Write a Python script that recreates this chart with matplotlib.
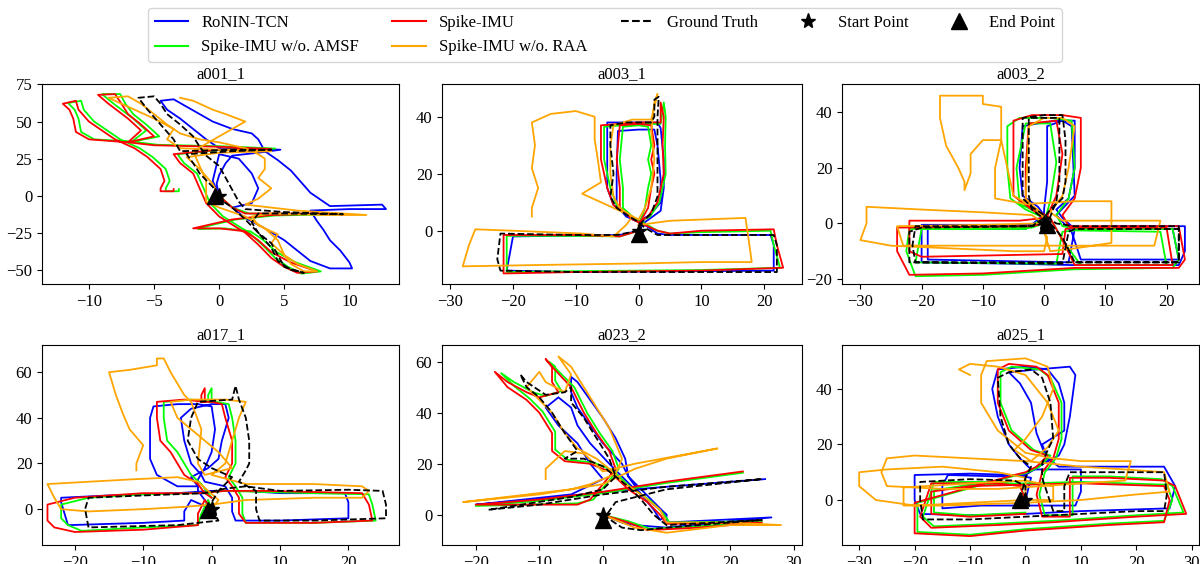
import matplotlib
matplotlib.use("Agg")
import matplotlib.pyplot as plt
from matplotlib.lines import Line2D

plt.rcParams['font.family'] = ['Liberation Serif', 'DejaVu Serif']

# Method names and colours
METHODS = ["RoNIN-TCN", "Spike-IMU w/o. AMSF", "Spike-IMU", "Spike-IMU w/o. RAA"]
COLORS = ["blue", "lime", "red", "orange"]

# ---------------- a001_1 ----------------
A001_GT = [(0,0),(-0.5,6),(-1.5,15),(-2,22),(-2.5,28),(1,30),(4,31),(1,31),(-3,30),(-3.5,38),(-4.5,48),
           (-5.5,58),(-6.2,66),(-5,67),(-4.5,62),(-4,55),(-3,48),(-2,40),(-1.5,33),(-1,27),(0,20),(0.5,12),
           (1,4),(1.5,-4),(2,-9),(5,-11),(9.5,-12.5),(5,-12),(3,-12),(2.5,-18),(3,-25),(4,-32),(4.5,-40),
           (5,-48),(6.5,-52),(5.5,-50),(4.5,-44),(4,-35),(3,-25),(2,-16),(1,-8),(0,-2),(-0.3,0)]
A001_RONIN = [(0,0),(-0.2,8),(0,14),(0.5,22),(1,27),(3,29),(4.7,31),(3,31.5),(0,32),(-1,38),(-2,45),(-3,52),
              (-4,58),(-4.5,64),(-3.5,65),(-2.5,60),(-1.5,55),(-0.5,50),(1,45),(2.5,42),(3,38),(3.5,30),
              (4.5,24),(5.5,17),(6.2,10),(7,2),(8,-4),(8.5,-7),(12.5,-6),(12.8,-9),(10,-9),(7,-10),(7.5,-17),
              (8,-23),(8.5,-30),(9.3,-37),(10,-45),(10.2,-49),(8.5,-49),(7,-44),(6,-37),(5,-30),(3.5,-22),
              (2,-15),(1,-8),(2.5,-5),(3,5),(2.5,15),(1.5,25),(0,28),(-0.5,10),(0,0)]
A001_AMSF = [(0,0),(1,-8),(2.3,-12),(9.3,-12.5),(4.3,-13.3),(1.3,-16),(-0.7,-20),(-1.6,-22.5),(0.4,-22),
             (2.4,-24),(3.4,-30),(4.4,-38),(5.9,-45),(7.8,-51),(6.3,-52.5),(5.3,-48),(4.3,-42),(3.3,-33),
             (2.3,-25),(0.3,-14),(-0.7,-5),(-1.2,5),(-1.7,15),(-2.7,22),(-3.2,28),(0.3,31),(4.3,31.8),
             (0.3,33.3),(-4.7,34.3),(-6.7,36.5),(-5.6,44),(-6.6,52),(-8.1,62),(-9,68.5),(-7.6,68.5),
             (-7.2,62),(-6.6,55),(-5.6,48),(-4.6,40),(-6.6,36.5),(-9.6,38),(-10.6,43),(-10.8,52),(-11.1,58),
             (-11.6,62.5),(-10.6,64),(-10.4,58),(-9.6,50),(-8.6,44),(-7.6,38),(-6.1,32),(-5.1,26),(-4.1,18),
             (-3.8,10),(-4.1,5),(-4.1,3),(-3.1,3),(-3.1,4.5)]
A001_SPIKE = [(0,0),(1,-8),(2,-12),(9,-12),(4,-13),(1,-16),(-1,-20),(-2,-22),(0,-22),(2,-24),(3,-30),(4,-38),
              (5.5,-45),(7.5,-51),(6,-52),(5,-48),(4,-42),(3,-33),(2,-25),(0,-14),(-1,-5),(-1.5,5),(-2,15),
              (-3,22),(-3.5,28),(0,31),(4,31.5),(0,33),(-5,34),(-7,36),(-6,44),(-7,52),(-8.5,62),(-9.3,68),
              (-8,68.5),(-7.5,62),(-7,55),(-6,48),(-5,40),(-7,36),(-10,38),(-11,43),(-11.2,52),(-11.5,58),
              (-12,62),(-11,64),(-10.8,58),(-10,50),(-9,44),(-8,38),(-6.5,32),(-5.5,26),(-4.5,18),(-4.2,10),
              (-4.5,5),(-4.5,3),(-3.5,3),(-3.5,4.5)]
A001_RAA = [(0,0),(-0.5,8),(-1.5,18),(-2.5,26),(0,29),(4,30),(2,30.5),(-3,32),(-4,38),(-3.5,45),(-5,52),
            (-6.5,58),(-8,64),(-8.5,66),(-7,67),(-6,62),(-5,55),(-4,48),(-3,42),(-1.5,38),(0,36),(2,32),
            (3,28),(3.5,25),(3.5,18),(3,12),(4,5),(3,-2),(2,-6),(6,-10),(11.3,-13),(8,-13),(4,-12),(2.5,-14),
            (3,-20),(4.5,-26),(4,-32),(5,-40),(6,-46),(7.5,-51),(6.5,-51),(5.5,-46),(5,-40),(4.5,-30),
            (3.5,-22),(2,-14),(0,-8),(-1,-4),(-1,0),(-1,10),(-2,30),(0,40),(2,50),(0.5,55),(-0.5,58),(-2,64),
            (-3,66)]

# ---------------- a003_1 ----------------
A003_1_GT = [(0,0),(-3.5,-1.5),(-10,-1.5),(-22,-1),(-22.5,-10),(-22,-14),(-10,-14.5),(10,-14.5),(22,-14.5),
             (22,-5),(21.5,-1.5),(10,-1.5),(3,-1.5),(1,1),(0,3),(-1.5,5),(-3.5,8),(-4.5,12),(-4,20),
             (-4.5,30),(-4.5,37),(-2,38),(2,38),(2.5,40),(2.5,46),(3.2,47),(3,40),(3,30),(3,20),(3,12),
             (2,6),(0.5,3),(0,-1)]
A003_1_RONIN = [(0,0),(-3,-1.5),(-20,-2),(-20.5,-8),(-21,-14),(-10,-14.5),(21.5,-14),(21.5,-5),(21,-1.5),
                (10,-1.5),(5,-1.5),(3,-1),(1,2),(-2,5),(-3.5,9),(-3.5,20),(-3.3,35),(0,35.5),(2.5,35.5),
                (3,30),(3.5,18),(3.5,10),(2,6),(0,3),(-2,6),(-4,9),(-5,15),(-5,30),(-5,38),(0,38),(3,38),
                (3.5,36),(4,25),(4,15),(3.5,7),(1,3),(0,0)]
A003_1_AMSF = [(0,0),(-3,-2),(-10,-1.8),(-21,-1.8),(-21,-8),(-21,-14.5),(-10,-14.2),(10,-13.8),(22.5,-13),
               (21.5,-5),(21,0),(10,-0.5),(5,-1),(3,0),(1,2.5),(-1,4.5),(-2,6.5),(-3.5,9),(-4.5,15),
               (-5.5,25),(-5.5,36.5),(0,37.5),(3.5,37.5),(4,45),(4.3,40),(4.2,30),(4.3,20),(3.3,10),
               (1.8,5),(0,3),(-1,5),(-2.5,8),(-2.5,15),(-3,25),(-2.5,36.5),(0,37),(1.5,36.5),(2,30),
               (1.5,25),(2,20),(1.5,15),(1,8),(0,2)]
A003_1_SPIKE = [(0,0),(-3,-2),(-10,-1.5),(-21.5,-1.5),(-21.5,-8),(-21.5,-15),(-10,-14.5),(10,-14),
                (23,-13),(22,-5),(21.5,0.5),(10,0),(5,-1),(3,0),(1,2),(-1,4),(-2,6),(-4,9),(-5,15),
                (-6,25),(-6,37),(0,38),(3.5,38),(3.5,45),(4,40),(3.8,30),(4,20),(3,10),(1.5,5),(0,3),
                (-1.5,5),(-3,8),(-3,15),(-3.5,25),(-3,37),(0,37.5),(2,37),(2.5,30),(2,25),(2.5,20),
                (2,15),(1.5,8),(0,2)]
A003_1_RAA = [(0,2),(5,3.5),(17,4.5),(17.5,-3),(18,-11),(10,-11),(0,-11.5),(-15,-12),(-28,-12.5),(-27,-5),
              (-26,0.5),(-20,0),(-9,-1),(-4,-2),(-2,2),(-1,5),(-3,8),(-4,12),(-4.5,20),(-4.5,30),(-4,37),
              (-1,39),(2,39),(3,48),(2.5,45),(2,35),(2.5,25),(2,15),(1,8),(0,4),(-2,6),(-5,9),(-9,13),
              (-6,17),(-6.5,25),(-7,32),(-7,40),(-10,42),(-14,41),(-17,38),(-16.5,30),(-17,22),(-16,15),
              (-17,8),(-17,5)]

# ---------------- a003_2 ----------------
A003_2_GT = [(0,0),(-2,-1),(-10,-1),(-21,-1),(-21.5,-8),(-21,-14),(-10,-14),(4,-14),(15,-14),(22,-14),
             (22,-7),(22,-1),(15,-1),(5,-1),(2,0),(0,3),(-2,6),(-3.5,9),(-3.5,20),(-3.5,38),(0,39),(3,39),
             (3.5,30),(3.5,15),(3,9),(1,5),(0,2),(-2,-1),(-20,-1.5),(-22,-3),(-22,-14),(3,-14.5),(4,-3),
             (5,-2),(22,-2),(22,-14),(5,-14),(3,-5),(1,0),(-2,5),(-2.5,10),(-2.5,38),(2.5,38),(2.5,15),
             (2,8),(0.5,-0.5)]
A003_2_RONIN = [(0,0),(-2,-0.5),(-20,-0.5),(-20,-8),(-20,-14),(-5,-14.5),(5,-15),(22,-15),(23,-10),(23,-1),
                (10,-1),(5,-2),(3,2),(2,5),(4,9),(5,20),(5,37),(2,37),(-1,36),(-3.5,35),(-4,20),(-3.5,10),
                (-1,6),(0,3),(-3,-2),(-19,-2),(-19,-13),(4,-14),(5,-2),(21,-2),(22,-13),(6,-13),(4.5,-3),
                (2,3),(5,10),(4.5,35),(3,37),(0.5,35),(0.5,15),(0,5),(0,0)]
A003_2_AMSF = [(0,0),(-2,-1.5),(-22,-2),(-22.5,-10),(-21,-19),(-10,-18.5),(5,-16.5),(21,-16),(22,-13),
               (21,-2),(6,-2),(3,-1),(2,3),(4,9),(5,20),(4.5,37),(1,38),(-4,38),(-6,35),(-6,20),(-5.5,9),
               (-3,5),(0,2),(-3,-2),(-20,-2),(-21,-14),(2,-14.5),(3,-3),(5,-2.5),(19,-3),(20,-15),(6,-15),
               (3,-6),(1,2),(-4,7),(-4.5,20),(-3,36),(1,36),(2,22),(1,8),(0,0)]
A003_2_SPIKE = [(0,0),(-2,-1),(-24,-1.5),(-24,-10),(-22,-18.5),(-10,-18),(5,-16),(22,-16),(23,-13),(22,-1),
                (8,-1),(4,-1),(3,3),(5,9),(6,20),(6,38),(3,39),(-2,39),(-5,37),(-5,25),(-5,10),(-2,5),(0,2),
                (-4,1),(-22,1),(-22,-10),(-20,-12),(3,-11),(3.5,-2),(5,-1.5),(20,-1.5),(21,-15),(5,-15),
                (3,-6),(1,2),(-3,7),(-3,20),(-2.5,36),(2,37),(3,25),(2,10),(0,0)]
A003_2_RAA = [(0,0),(-2,3),(-10,4),(-20,5),(-29,6),(-29,0),(-30,-6),(-25,-8),(-15,-9),(-5,-10),(0,-10),
              (0.5,-5),(0,-3),(1,-10),(5,-9),(11,-7),(11,0),(11,8),(5,8),(-3,7),(-8,9),(-8,20),(-7,30),
              (-7,42),(-10,43),(-10,46),(-17,46),(-17,38),(-16,28),(-14,20),(-13,15),(-13,12),(-12,18),
              (-12,25),(-10,30),(-7,30),(-6,20),(-5,10),(-1,5),(0,2),(-3,9),(-2.5,35),(0,38),(3,38),(5,35),
              (4,20),(3,10),(1,4),(3,1),(10,1),(19,1),(18,-8),(5,-8),(-10,-8),(-23,-8),(-24,-1),
              (-10,-0.5),(-1,0)]

# ---------------- a017_1 ----------------
A017_GT = [(0,0),(1,-5),(-5,-7),(-18,-8),(-18.5,0),(-18,5),(-10,6),(-1,7),(2,9),(5,10),(10,8),(20,8.5),
           (25,8),(25.5,2),(25.5,-4),(15,-5),(7,-5),(6.5,0),(6.5,8),(4,12),(5,17),(5.5,20),(5.5,30),(5,40),
           (4,48),(3.5,54),(3,48),(-2,47),(-3,40),(-3.5,30),(-2,22),(0,18),(3,14),(1,8),(0,3),(-0.5,-0.5)]
A017_RONIN = [(0,0),(-3,4),(-4,-1),(-4,-5),(-10,-6),(-21,-7),(-21.5,-2),(-22,3),(-22,5),(-15,6),(-5,7),
              (0,8),(5,8),(10,7),(19.5,7),(20,3),(20,-4),(10,-5),(3.5,-5),(3,-1),(3,5),(2,10),(-1,12),
              (-1.5,15),(-3,20),(-4,30),(-4.5,40),(-3,44),(0,46),(2,46),(2.5,40),(1.5,30),(1,22),(-0.5,18),
              (-3,14),(-2,10),(-5,10),(-8,15),(-9,22),(-9,32),(-9,40),(-8.5,45),(-5,46),(-2,46),(0,45),
              (0.5,35),(0,25),(-1,18),(-2,13),(-2,8),(-1,4),(0,0)]
A017_AMSF = [(0,0),(-0.5,4),(-1.5,-2),(-2,-7),(-10,-8),(-19,-9.5),(-21,-7),(-22,-4),(-22,2),(-18,5),
             (-10,6.5),(-2,7),(2,8),(8,7.5),(15,7),(23,6.5),(23.5,2),(24,-5),(15,-6),(5,-6),(4.5,-2),(4.5,5),
             (3.5,10),(2.5,14),(3.5,20),(3.5,30),(3,40),(2.5,46),(0.5,47),(-0.5,47),(-0.5,50),(0,53),(0,47),
             (-3,48),(-7,47),(-7,40),(-6.5,30),(-5,25),(-4,20),(-3,15),(-1.5,11),(-0.5,7),(0,5)]
A017_SPIKE = [(0,0),(-1,4),(-2,-2),(-2,-7),(-10,-9),(-20,-10),(-23,-8),(-24,-5),(-24,2),(-20,5),(-10,7),
              (-2,7),(2,8),(8,8),(15,7.5),(22,7),(23,2),(23.5,-5),(15,-6),(5,-6),(4,-2),(4,5),(3,10),(2,14),
              (3,20),(3,30),(2,40),(1.5,46),(0,47),(-1.5,47),(-1.5,50),(-1,53),(-1,47),(-4,48),(-8,47),
              (-8,40),(-7.5,30),(-6,25),(-5,20),(-4,15),(-2,11),(-1,7),(0,5)]
A017_RAA = [(0,0),(1,4),(-2,12),(-5,14),(-12,13),(-24,11),(-23,5),(-22,0),(-18,-1),(-10,0),(-4,1),(0,2),
            (5,4),(15,5),(22,5),(23,8),(22,10),(15,11),(5,11),(0,15),(2,20),(3,30),(4,40),(5,47),(2,48),
            (-3,48),(-6,47),(-5,40),(-3,35),(-1,30),(1,25),(3,18),(-1,15),(-2,20),(-1.5,35),(-3,47),(-4,50),
            (-6,60),(-7,66),(-8,66),(-8,63),(-12,61),(-15,60),(-14,50),(-13,42),(-12,35),(-10,28),(-11,20),
            (-11,17)]

# ---------------- a023_2 ----------------
A023_GT = [(0,0),(3,-5),(6,-6),(10,-5),(25,-2),(10,-4),(8,0),(6,6),(4,11),(2,15),(0,19),(-3,22),(-6,22),
           (-4,25),(-6,32),(-8,40),(-10,46),(-12,50),(-13,55),(-12,52),(-9,47),(-6,48),(-5,50),(-5,44),
           (-3,38),(-1,30),(1,22),(2,15),(0,10),(-5,7),(-18,2),(-10,4),(0,8),(10,11),(20,13),(25,14),
           (10,10),(2,5),(0,-2)]
A023_RONIN = [(0,0),(3,-3),(5,-4),(10,-5),(26.5,-1),(10,-3),(10,0),(8,5),(6,10),(4,15),(3,20),(0,28),(-2,35),
              (-4,42),(-5,48),(-5,54),(-4,52),(-2,45),(0,38),(2,30),(3.5,22),(4,15),(6,8),(8,2),(9,-2),(10,0),
              (7,6),(5,10),(3,15),(1,20),(-2,28),(-4,35),(-5,42),(-7,46),(-9,42),(-7,35),(-4,28),(-2,20),
              (0,14),(-5,8),(-20,4),(-10,6),(0,9),(10,11),(25.5,14)]
A023_AMSF = [(0,0),(4,-2.5),(7.5,-5.5),(15,-4.5),(25,-2.5),(10.5,-3),(9.5,0.5),(7.5,5.5),(4.5,10.5),
             (1.5,17.5),(-1.5,20.5),(-5.5,21.5),(-7.5,25.5),(-7.5,32.5),(-9.5,40.5),(-11.5,45.5),(-14,50.5),
             (-16,55.5),(-14,52),(-11,48),(-9,46.5),(-6.5,48.5),(-7.5,52.5),(-7.5,58),(-8.5,60),(-7.5,57.5),
             (-4.5,50),(-2.5,40),(-0.5,32),(1.5,25),(2.5,18),(0.5,12),(-1.5,6),(-4,4.5),(-20,3.5),
             (-10,5.5),(0,8.5),(10,12.5),(22,16.5)]
A023_SPIKE = [(0,0),(4,-3),(7,-6),(15,-5),(25,-3),(10,-3.5),(9,0),(7,5),(4,10),(1,17),(-2,20),(-6,21),
              (-8,25),(-8,32),(-10,40),(-12,45),(-15,50),(-17,56),(-15,52),(-12,48),(-10,46),(-7,48),(-8,52),
              (-8,58),(-9,61),(-8,58),(-5,50),(-3,40),(-1,32),(1,25),(2,18),(0,12),(-2,6),(-4,4),(-20,4),
              (-10,6),(0,9),(10,13),(22,17)]
A023_RAA = [(0,0),(5,-5),(10,-7),(20,-4),(28,-4),(20,-3),(10,-3),(9,2),(6,8),(3,13),(1,18),(-1,22),(-4,26),
            (-6,32),(-8,40),(-10,45),(-12,50),(-10,56),(-9,52),(-6,48),(-5,55),(-7,62),(-5,58),(-3,50),
            (-1,42),(1,34),(2,28),(3,22),(2,16),(-2,12),(-5,10),(-22,5),(-10,8),(0,12),(5,18),(10,22),
            (18,26),(5,20),(0,17),(-3,24),(-6,25),(-9,18),(-9,14)]

# ---------------- a025_1 ----------------
A025_GT = [(0,0),(0,5),(-2,7),(-10,7.5),(-19,6.5),(-19,0),(-18.5,-7),(-10,-7),(0,-6),(10,-5),(20,-4),(25,-4),
           (25.5,2),(25,10),(15,10),(8,10),(7,5),(7,-4),(5,-4),(3,8),(3,13),(4,18),(5,22),(4.5,35),(3,44),
           (1,47),(-3,46),(-5,44),(-4.5,30),(-3,20),(-1,15),(1,12),(0,8),(-1,0)]
A025_RONIN = [(0,0),(1,8),(-2,9),(-10,9.5),(-20,9),(-20,0),(-19,-5),(-10,-5.5),(0,-5),(10,-4),(26,-3),
              (27,5),(25,12),(10,12),(6,12),(4,15),(3,20),(7,25),(7,35),(6,42),(4,47),(0,48),(-5,47),(-6,40),
              (-5,30),(-3,20),(-1,15),(1,11),(10,11),(10,3),(9,-2),(-8,-2),(-15,-3),(-15,5),(-14,9),(-5,8.5),
              (0,9),(4,14),(2,24),(1,35),(-1,42),(-3,46),(2,47),(8,48),(9,45),(8,30),(7,20),(6,16),(2,12)]
A025_AMSF = [(0,0),(-1,5.5),(-5,6.5),(-16.5,6.5),(-17.5,0),(-18.5,-6),(-16.5,-9.5),(-5,-8.5),(5,-7.5),
             (20,-5.5),(28.5,-4.5),(26.5,5),(24.5,7.5),(15,8.5),(8.5,8.5),(8.5,0),(8.5,-5.5),(3.5,-5.5),
             (2.5,2),(3.5,10),(5.5,15),(6.5,22),(6.5,35),(4.5,44),(2.5,47),(-2.5,48),(-4.5,46),(-4.5,35),
             (-2.5,25),(1.5,18),(4.5,16),(2.5,12),(0.5,10),(-1.5,9),(-19.5,-1),(-19.5,-11.5),(-10,-12.5),
             (0,-10.5),(15,-8.5),(25,-7.5),(26.5,0),(25.5,5.5),(10,6.5),(-10,5.5),(-16.5,3.5),(-16.5,-4.5),
             (-10,-5.5),(0,-4.5)]
A025_SPIKE = [(0,0),(-1,5),(-5,6),(-17,6),(-18,0),(-19,-6),(-17,-10),(-5,-9),(5,-8),(20,-6),(29,-5),(27,5),
              (25,7),(15,8),(8,8),(8,0),(8,-6),(3,-6),(2,2),(3,10),(5,15),(6,22),(6,35),(4,45),(2,48),(-3,49),
              (-5,47),(-5,35),(-3,25),(1,18),(4,16),(2,12),(0,10),(-2,9),(-20,-1),(-20,-12),(-10,-13),
              (0,-11),(15,-9),(25,-8),(26,0),(25,5),(10,6),(-10,5),(-17,3),(-17,-5),(-10,-6),(0,-5)]
A025_RAA = [(0,0),(0,8),(-5,10),(-15,12),(-25,11),(-30,10),(-30,5),(-27,0),(-20,-2),(-10,-1),(0,0),(5,0),
            (5,5),(0,7),(-10,6),(-22,4.5),(-22,-2),(-15,-2),(0,-1),(10,0),(20,2),(26,3),(25,10),(18,11),
            (10,12),(0,14),(-10,15),(-20,16),(-25,15),(-26,10),(-25,5),(-15,4),(-5,4),(3,5),(10,6),(18,7),
            (19,14),(10,14),(5,15),(0,17),(-5,25),(-8,35),(-8,45),(-7,50),(0,51),(4,48),(5,40),(3,30),
            (0,22),(-2,18),(1,14),(4,19),(6,25),(4,35),(0,45),(-5,48),(-10,49),(-12,47),(-10,45)]

TITLES = ["a001_1", "a003_1", "a003_2", "a017_1", "a023_2", "a025_1"]
XLIMS = [(-13.6, 13.8), (-31.3, 26), (-33, 25.3), (-24.8, 27.4), (-25.3, 31.3), (-33.1, 31.3)]
YLIMS = [(-59.5, 75.3), (-18.7, 51.5), (-21.8, 50.2), (-15.7, 71.9), (-11.8, 66.5), (-16.2, 55.8)]


def draw_panel(ax, title, preds, gt, xlim, ylim):
    # predictions first, ground truth on top
    for pts, c in zip(preds, COLORS):
        xs, ys = zip(*pts)
        ax.plot(xs, ys, color=c, lw=1.3)
    gx, gy = zip(*gt)
    ax.plot(gx, gy, '--', color='black', lw=1.3)
    ax.plot(gx[0], gy[0], '*', color='black', ms=11)
    ax.plot(gx[-1], gy[-1], '^', color='black', ms=12)
    ax.set_xlim(*xlim)
    ax.set_ylim(*ylim)
    ax.set_title(title, fontsize=12, pad=4)
    ax.tick_params(labelsize=12)


def main():
    fig = plt.figure(figsize=(12, 5.64), dpi=100)
    W, H = 1200, 564
    # axes boxes in pixels: left, top, right, bottom
    boxes = [(42, 84, 399, 284), (442, 84, 802, 284), (842, 84, 1199, 284),
             (42, 345, 399, 545), (442, 345, 802, 545), (842, 345, 1199, 545)]
    panels = [
        ([A001_RONIN, A001_AMSF, A001_SPIKE, A001_RAA], A001_GT),
        ([A003_1_RONIN, A003_1_AMSF, A003_1_SPIKE, A003_1_RAA], A003_1_GT),
        ([A003_2_RONIN, A003_2_AMSF, A003_2_SPIKE, A003_2_RAA], A003_2_GT),
        ([A017_RONIN, A017_AMSF, A017_SPIKE, A017_RAA], A017_GT),
        ([A023_RONIN, A023_AMSF, A023_SPIKE, A023_RAA], A023_GT),
        ([A025_RONIN, A025_AMSF, A025_SPIKE, A025_RAA], A025_GT),
    ]
    for i, (l, t, r, b) in enumerate(boxes):
        ax = fig.add_axes([l / W, 1 - b / H, (r - l) / W, (b - t) / H])
        preds, gt = panels[i]
        draw_panel(ax, TITLES[i], preds, gt, XLIMS[i], YLIMS[i])

    handles = [Line2D([], [], color=c, lw=1.5) for c in COLORS]
    handles += [Line2D([], [], color='black', ls='--', lw=1.5),
                Line2D([], [], color='black', marker='*', ls='none', ms=11),
                Line2D([], [], color='black', marker='^', ls='none', ms=12)]
    labels = METHODS + ["Ground Truth", "Start Point", "End Point"]
    fig.legend(handles, labels, loc='upper center', bbox_to_anchor=(0.504, 1.0),
               ncol=5, fontsize=12, frameon=True)

    fig.savefig("out.png", dpi=100)


if __name__ == "__main__":
    main()
